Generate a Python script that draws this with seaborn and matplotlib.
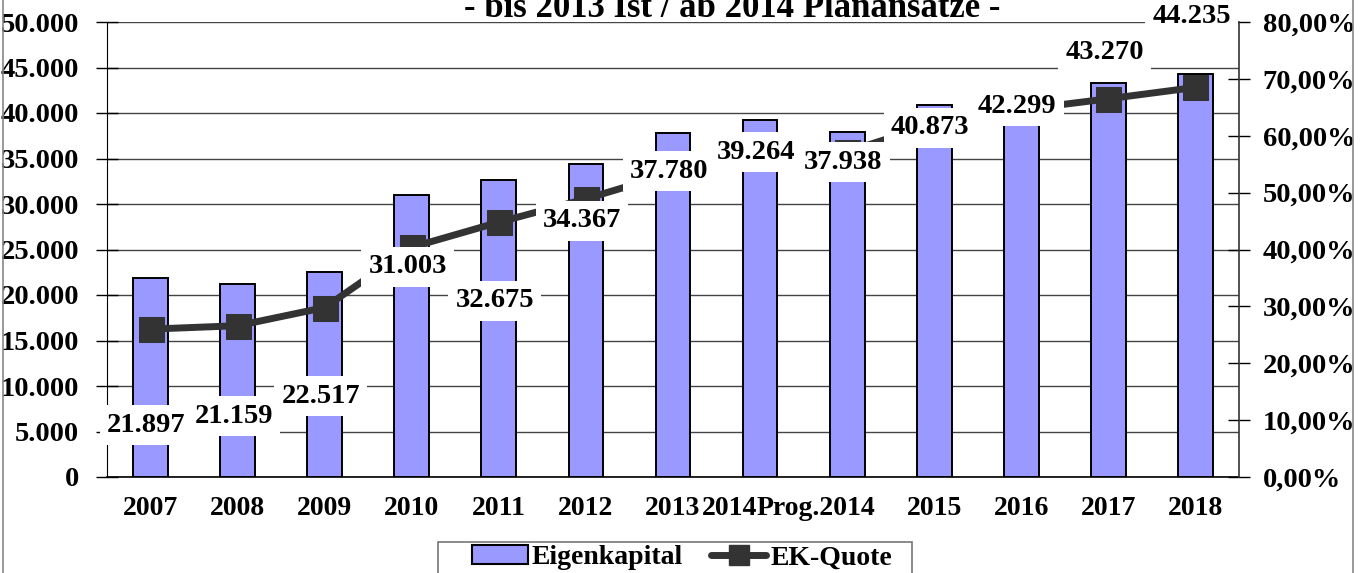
import numpy as np
import matplotlib
matplotlib.use("Agg")
import matplotlib.pyplot as plt
import matplotlib.transforms as mtransforms
from matplotlib.patches import Rectangle, Patch
from matplotlib.lines import Line2D
from matplotlib.ticker import FixedLocator, FuncFormatter
import seaborn as sns

# ---------------- data ----------------
categories = ["2007", "2008", "2009", "2010", "2011", "2012", "2013", "2014",
              "Prog.2014", "2015", "2016", "2017", "2018"]
eigenkapital = [21897, 21159, 22517, 31003, 32675, 34367, 37780, 39264,
                37938, 40873, 42299, 43270, 44235]
ek_quote = [26.0, 26.6, 29.8, 40.4, 44.8, 48.9, 53.5, 56.3,
            57.2, 62.1, 64.6, 66.5, 68.5]
title_text = "- bis 2013 Ist / ab 2014 Planansätze -"
left_ticks = [0, 5000, 10000, 15000, 20000, 25000, 30000, 35000, 40000, 45000, 50000]
right_ticks = [0, 10, 20, 30, 40, 50, 60, 70, 80]
# label anchor heights (left-axis units)
label_pos = [5714, 6703, 8901, 23077, 19341, 28132, 33626, 35714,
             34615, 38352, 40769, 46703, 50659]

# ---------------- style ----------------
sns.set_style("white")
plt.rcParams["font.family"] = ["Liberation Serif", "DejaVu Serif"]
plt.rcParams["font.weight"] = "bold"
plt.rcParams["text.color"] = "black"
plt.rcParams["xtick.color"] = "black"
plt.rcParams["ytick.color"] = "black"
plt.rcParams["axes.labelcolor"] = "black"

W, H = 1367, 573
fig = plt.figure(figsize=(W / 100, H / 100), dpi=100)
ax = fig.add_axes([107 / W, 1 - 477 / H, (1239 - 107) / W, (477 - 22) / H])

n = len(categories)
x = np.arange(n)

sns.barplot(x=categories, y=eigenkapital, ax=ax, color="#9999FF",
            saturation=1, width=0.4, edgecolor="black", linewidth=1.4, zorder=3)
ax.set_axisbelow(True)
ax.yaxis.grid(True, color="#444444", linewidth=1)
ax.xaxis.grid(False)
ax.set_ylim(0, 50000)
ax.set_xlim(-0.5, n - 0.5)
ax.yaxis.set_major_locator(FixedLocator(left_ticks))
ax.yaxis.set_major_formatter(FuncFormatter(lambda v, p: f"{v:,.0f}".replace(",", ".")))
ax.tick_params(axis="y", direction="inout", length=16, width=1, pad=12,
               labelsize=20.5, colors="black")
ax.set_xticks(x)
ax.set_xticklabels(categories)
ax.set_xticks(np.arange(-0.5, n, 1.0), minor=True)
ax.tick_params(axis="x", which="major", length=0, pad=14, labelsize=20)
ax.tick_params(axis="x", which="minor", length=8, width=1, direction="out", color="black")
for lab in ax.get_xticklabels():
    lab.set_fontweight("bold")
for lab in ax.get_yticklabels():
    lab.set_fontweight("bold")
# shift overlapping tick labels as in original
xl = ax.get_xticklabels()
for idx in (7, 8):
    off = mtransforms.ScaledTranslation(-31 / 100, 0, fig.dpi_scale_trans)
    xl[idx].set_transform(xl[idx].get_transform() + off)
ax.set_xlabel("")
ax.set_ylabel("")
for s in ["top", "right"]:
    ax.spines[s].set_visible(False)
ax.spines["left"].set_color("black")
ax.spines["bottom"].set_color("black")
ax.spines["bottom"].set_linewidth(1.2)

ax2 = ax.twinx()
sns.lineplot(x=x, y=ek_quote, ax=ax2, color="#333333", linewidth=5,
             marker="s", markersize=18, markeredgecolor="#333333",
             markerfacecolor="#333333", legend=False, zorder=4)
ax2.set_ylim(0, 80)
ax2.set_xlim(-0.5, n - 0.5)
ax2.yaxis.set_major_locator(FixedLocator(right_ticks))
ax2.yaxis.set_major_formatter(FuncFormatter(lambda v, p: f"{v:.2f}".replace(".", ",") + "%"))
ax2.tick_params(axis="y", direction="inout", length=16, width=1, pad=9,
                labelsize=20.5, colors="black")
for lab in ax2.get_yticklabels():
    lab.set_fontweight("bold")
ax2.set_ylabel("")
for s in ["top", "left", "bottom"]:
    ax2.spines[s].set_visible(False)
ax2.spines["right"].set_color("#333333")
ax2.spines["right"].set_linewidth(1.2)

# data labels (white boxes, above line)
lab_off = mtransforms.ScaledTranslation(-4 / 100, 0, fig.dpi_scale_trans)
for i, v in enumerate(eigenkapital):
    ax2.text(x[i], label_pos[i], f"{v:,.0f}".replace(",", "."),
             transform=ax.transData + lab_off,
             ha="center", va="center", fontsize=20.5, fontweight="bold", zorder=10,
             bbox=dict(facecolor="white", edgecolor="none", boxstyle="square,pad=0.25"))

# title (cut off at top as in original)
fig.text(732 / W, 1 - 17 / H, title_text, ha="center", va="baseline",
         fontsize=25, fontweight="bold")

# legend (frame drawn separately to match original width)
handles = [Patch(facecolor="#9999FF", edgecolor="black", linewidth=1.5),
           Line2D([0], [0], color="#333333", linewidth=5, marker="s",
                  markersize=14, markerfacecolor="#333333", markeredgecolor="#333333")]
leg = fig.legend(handles, ["Eigenkapital", "EK-Quote"], loc="upper left",
                 bbox_to_anchor=(472 / W, 1 - 545 / H), ncol=2, frameon=False,
                 prop={"size": 20, "weight": "bold"},
                 handlelength=2.0, handletextpad=0.15, columnspacing=1.0,
                 borderpad=0.0, borderaxespad=0)
fig.patches.append(Rectangle((438 / W, -0.05), (912 - 438) / W, (1 - 542 / H) + 0.05,
                             transform=fig.transFigure, fill=False,
                             edgecolor="#777777", linewidth=1.2))

# outer frame
fig.patches.append(Rectangle((3 / W, -0.1), (1353 - 3) / W, 1.2, transform=fig.transFigure,
                             fill=False, edgecolor="#888888", linewidth=1.2))

fig.savefig("out.png", dpi=100)
